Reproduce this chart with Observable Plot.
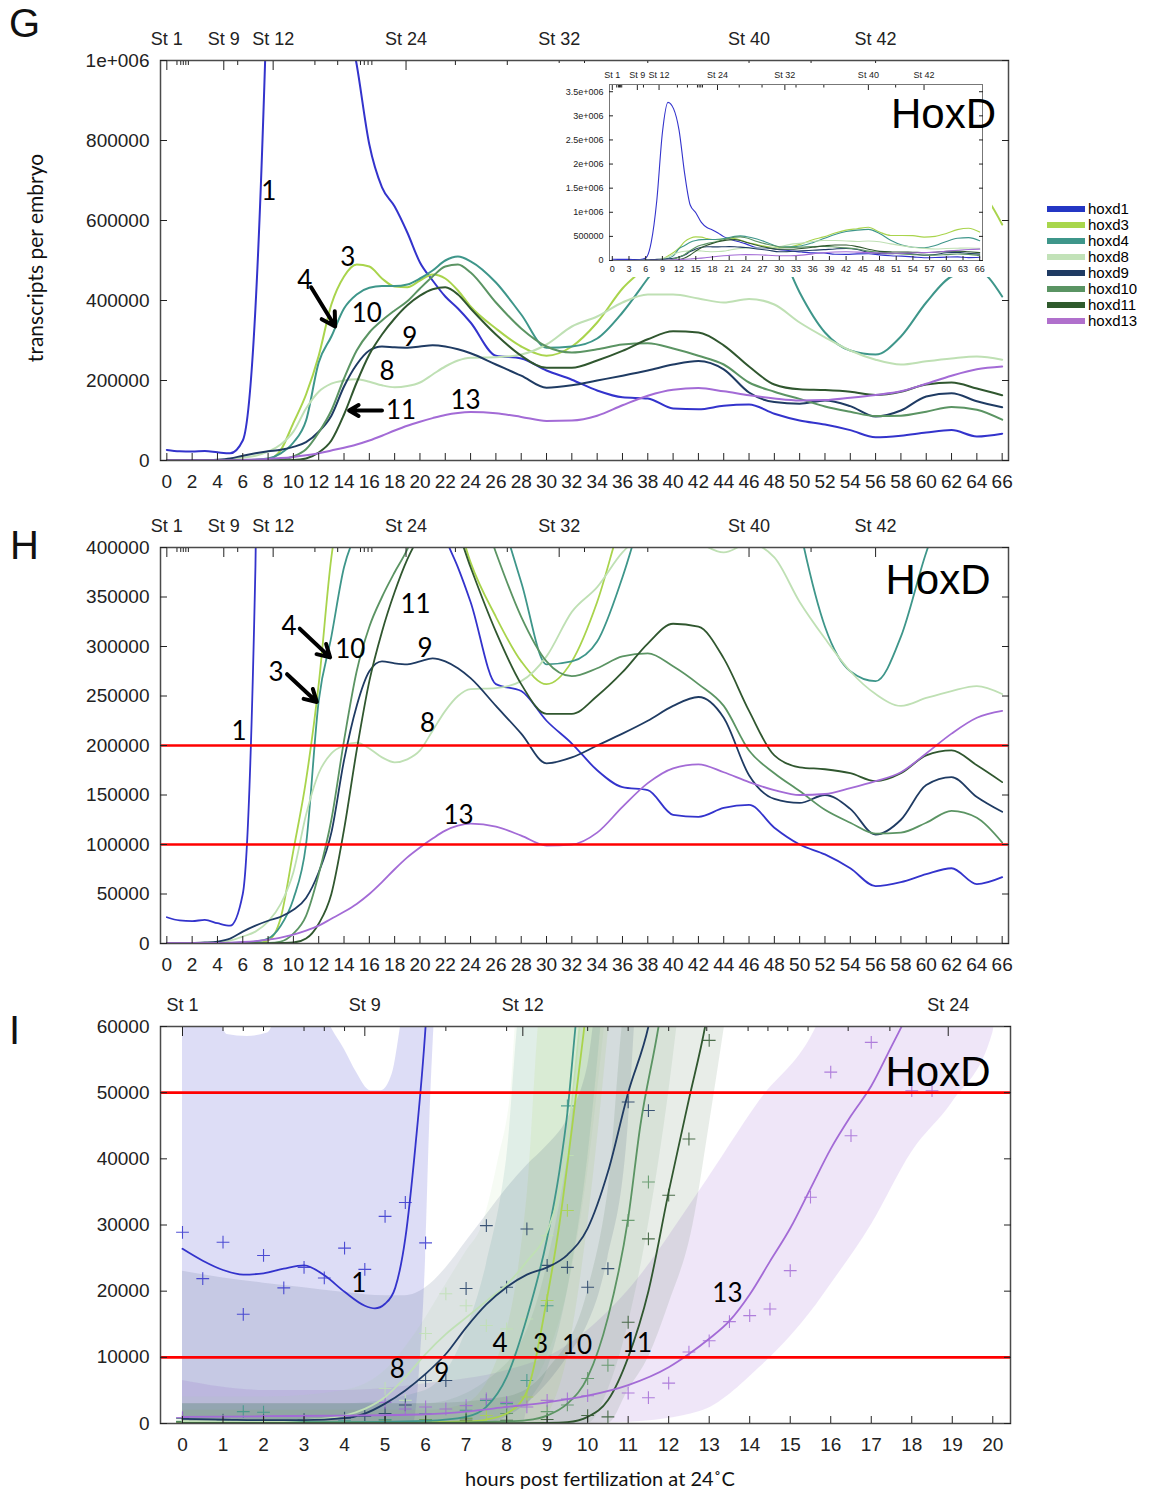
<!DOCTYPE html>
<html><head><meta charset="utf-8">
<script src="https://cdn.jsdelivr.net/npm/d3@7"></script>
<script src="https://cdn.jsdelivr.net/npm/@observablehq/plot@0.6"></script>
<style>
body{margin:0;background:#fff;}
#root{position:relative;width:1157px;height:1492px;overflow:hidden;background:#fff;font-family:"Liberation Sans",Arial,sans-serif;}
.abs{position:absolute;}
.letter{font-size:40px;line-height:40px;color:#111;}
.hoxd{font-size:42px;line-height:42px;color:#000;}
.title{font-family:Lato,"Open Sans",sans-serif;font-size:21px;color:#111;white-space:nowrap;}
.leg{font-size:15px;line-height:16px;color:#000;}
.leg div{display:flex;align-items:center;height:16px;}
.leg span.sw{display:inline-block;width:38px;height:6px;margin-right:3px;}
</style></head><body><div id="root"></div>
<script>
// ---------------- genes & colours ----------------
const genes = ["hoxd1","hoxd3","hoxd4","hoxd8","hoxd9","hoxd10","hoxd11","hoxd13"];
const lineColors = ["#3333cc","#a9d44c","#3e968a","#bfe0b4","#1f3b63","#5b9463","#30572f","#a36bd6"];
const legendColors = ["#2436c4","#a8d64c","#3e968a","#c2e2b8","#1f3b63","#5a9463","#2f5a2c","#b070cc"];
const bandOpacity = [0.17,0.12,0.12,0.14,0.12,0.11,0.11,0.17];

// ---------------- stages ----------------
const stageNames = ["St 1","St 9","St 12","St 24","St 32","St 40","St 42"];
const stageHours = [0,4.5,8.4,18.9,31,46,56];
const minorStageHours = [0.8,1.1,1.3,1.5,1.7,5.6,11.7,13.5,15.3,15.6,15.9,16.2,22.8,26.9,33,38,50.9];
const minorStageHoursI = [1,1.5,2,3,3.5,4,6.5,8,10,10.5,11,12,12.94,13.96,14.45,14.94,15.44,16.43,17.46];

// ---------------- panels G/H/inset: transcripts per embryo (thousands) ----------------
const hoursMain = [0,1,2,3,4,5,6,7,8,9,10,11,12,13,14,15,16,17,18,19,20,21,22,23,24,26,28,30,32,34,36,38,40,42,44,46,48,50,52,54,56,58,60,62,64,66];
const hoxd1 = [26.5,23.3,22.7,23.8,20.5,18,50,380,1250,2650,3280,3150,2700,1800,1150,990,790,683,635,570,495,450,410,380,345,262,255,225,202,175,158,155,130,128,137,140,117,100,90,76,58,62,70,76,60,67];
const hoxd3 = [0.3,0.3,0.3,0.3,0.3,0.3,0.3,0.5,3,26,94,165,262,390,460,490,485,455,435,433,450,465,455,425,385,330,285,262,285,345,430,490,570,630,660,690,590,520,520,515,485,500,560,640,670,590];
const hoxd4 = [0.2,0.2,0.2,0.2,0.3,0.5,1,2,5,18,45,100,245,310,380,415,432,436,436,440,455,475,500,510,498,445,365,282,285,305,370,455,540,600,630,645,560,420,320,275,265,310,395,460,475,410];
const hoxd8 = [0.3,0.4,0.5,0.6,1,3,7,12,22,40,72,130,172,192,200,203,197,188,183,186,195,215,235,250,257,258,265,290,335,360,395,415,415,405,395,404,390,345,308,275,252,240,248,255,260,252];
const hoxd9 = [0.5,0.5,0.5,1,2,5,12,18,23,27,34,46,72,112,185,240,275,285,283,282,285,288,285,278,268,240,212,182,188,200,212,225,240,249,228,170,146,142,150,136,110,125,160,168,148,133];
const hoxd10 = [0.1,0.1,0.1,0.1,0.1,0.1,0.2,0.3,0.5,2,10,28,70,125,205,275,320,350,375,398,430,460,485,490,470,395,330,285,270,278,290,293,280,262,240,195,172,154,135,122,111,112,122,134,127,102];
const hoxd11 = [0.1,0.1,0.1,0.1,0.1,0.1,0.1,0.1,0.2,0.5,1,5,20,50,115,195,265,315,355,388,412,428,433,415,380,315,262,232,232,250,274,303,323,320,288,235,190,178,176,172,164,172,190,195,180,163];
const hoxd13 = [0.5,0.5,0.5,0.5,0.5,0.8,1.5,2.5,4,6,9,13,18,25,32,40,50,62,75,87,97,106,114,119,121,118,109,99,100,112,138,162,177,181,173,163,155,150,151,157,164,173,192,212,228,235];
const mainSeries = [hoxd1,hoxd3,hoxd4,hoxd8,hoxd9,hoxd10,hoxd11,hoxd13];

// ---------------- panel I: fitted curves (thousands) ----------------
const i1h = [0,0.5,1,1.5,2,2.5,3,3.5,4,4.5,4.75,5,5.25,5.5,5.75,6,6.1];
const i1v = [26.4,24.6,23.2,22.5,22.7,23.4,23.9,22.4,19.9,17.8,17.4,18.1,20.5,28,42,60,70];
const i3h = [0,2,4,6,7,7.5,8,8.5,9,9.3,9.6,9.9,10.1];
const i3v = [0.2,0.2,0.2,0.2,0.3,0.6,1.5,4.8,19,30,44,59,70];
const i4h = [0,2,4,6,7,7.5,8,8.5,9,9.3,9.5,9.7,9.9];
const i4v = [0.2,0.2,0.2,0.4,1,2.5,7,16,28,38,47,60,72];
const i8h = [0,1,2,3,4,4.5,5,5.5,6,6.5,7,7.5,8,8.5,9,9.3,9.6,9.8,10];
const i8v = [0.3,0.3,0.3,0.5,1.2,2.2,4,7,10.5,13.5,16,18.5,21,24.5,29,35,48,60,72];
const i9h = [0,1,2,3,4,4.5,5,5.5,6,6.5,7,7.5,8,8.5,9,9.5,10,10.5,11,11.5,11.7];
const i9v = [0.7,0.6,0.5,0.5,0.8,1.5,3,5,7.5,10.5,14.5,18,20.6,22.5,23.6,25.5,29.5,38,50,60,66];
const i10h = [0,2,4,6,8,8.5,9,9.5,10,10.5,11,11.3,11.75,12];
const i10v = [0.1,0.1,0.1,0.1,0.3,0.5,1.2,3,7,16,31,45,60,70];
const i11h = [0,2,4,6,8,9,9.5,10,10.5,11,11.5,12,12.5,12.9,13.1];
const i11v = [0.05,0.05,0.05,0.05,0.05,0.1,0.2,1,3.5,10,20,35,49,60,67];
const i13h = [0,2,4,6,7,8,9,10,11,12,12.5,13,13.5,14,14.5,15,15.5,16,16.5,17,17.5,18];
const i13v = [1,1.1,1.2,1.4,1.8,2.5,3.2,4.2,5.8,8.5,10.5,12.8,15.5,19.5,24.5,29.5,35.5,41.5,46.5,51,57,63];
const iCurveH = [i1h,i3h,i4h,i8h,i9h,i10h,i11h,i13h];
const iCurveV = [i1v,i3v,i4v,i8v,i9v,i10v,i11v,i13v];

// ---------------- panel I: confidence bands (thousands) ----------------
const b1h = [0,0.9,1.1,1.6,2.1,2.4,3.5,3.7,4.0,4.3,4.64,4.9,5.18,5.37,5.5,5.7,5.85,6.0,6.1,6.25];
const b1lo = [0,0,0,0,0,0,0,0,0,0,0,0,0,0,0,0,8,25,45,65];
const b1hi = [65,61,58.8,58.5,59,62,62,59.5,56.5,53,50.3,50.3,52.9,59.5,65,65,65,65,65,65];
const b3h = [0,2,4,6,7,8,8.5,8.9,9,9.5,10,10.6];
const b3lo = [0,0,0,0,0,0,0,0,1,10,30,65];
const b3hi = [2,2,2,2,3,14,34,65,65,65,65,65];
const b4h = [0,2,4,6,7,7.5,8,8.4,8.5,9,9.5,10,10.4];
const b4lo = [0,0,0,0,0,0,0,0,2,8,20,40,65];
const b4hi = [3,3,3,5,14,24,40,65,65,65,65,65,65];
const b8h = [0,2,4,5,5.9,6.5,7,7.4,7.8,8.1,8.3,9,9.5,10,10.5];
const b8lo = [0,0,0,0,0,0,0,0,1,2,3,10,20,38,65];
const b8hi = [4,4,5,8,15,21,26,30,40,50,65,65,65,65,65];
const b9h = [0,1,2,3,4,5,5.5,6,6.5,7,7.5,8,8.5,9,9.5,10,10.3,10.5,11,11.2];
const b9lo = [0,0,0,0,0,0,0,0,0,0,0,1,3,6,10,15,20,25,45,65];
const b9hi = [23,22,21.2,20.5,19.8,19.3,19.3,20.5,23.5,27.5,31.5,35.5,39,42,46,54,65,65,65,65];
const b10h = [0,2,4,6,8,9,9.5,10,10.5,11,11.5,12,12.3];
const b10lo = [0,0,0,0,0,0,0,0,5,15,30,50,65];
const b10hi = [3,3,3,3,9,24,40,65,65,65,65,65,65];
const b11h = [0,2,4,6,8,9,10,10.5,11,11.5,12,12.6,13,13.5];
const b11lo = [0,0,0,0,0,0,0,0,5,10,18,30,45,65];
const b11hi = [3,3,3,3,4,8,20,35,65,65,65,65,65,65];
const b13h = [0,2,4,6,8,9.3,11,12.77,14.25,15.65,16,17,18,19,20,20.1];
const b13lo = [0,0,0,0,0,0,0.2,1.8,8.5,18,21,30,41,48.5,59,65];
const b13hi = [6.5,5,5,6,8,11,20.1,35.2,48.8,60,65,65,65,65,65,65];
const bandH = [b1h,b3h,b4h,b8h,b9h,b10h,b11h,b13h];
const bandLo = [b1lo,b3lo,b4lo,b8lo,b9lo,b10lo,b11lo,b13lo];
const bandHi = [b1hi,b3hi,b4hi,b8hi,b9hi,b10hi,b11hi,b13hi];

// ---------------- panel I: measured points (thousands) ----------------
const p1x = [0,0.5,1,1.5,2,2.5,3,3.5,4,4.5,5,5.5,6];
const p1y = [28.9,21.9,27.4,16.5,25.4,20.5,23.6,22,26.5,23.3,31.3,33.4,27.3];
const p3x = [0,2,4,6,7,7.5,8,8.5,9,9.5];
const p3y = [0.2,0.3,0.2,0.6,0.8,1.2,2.5,4,18.6,32.2];
const p4x = [0,1,1.5,2,3,4,5,6,7,7.5,8,8.5,9,9.5];
const p4y = [0.3,0.4,1.8,1.7,0.3,0.4,0.6,1.5,2,3.5,3,6.5,17.8,48];
const p8x = [0,1,2,3,4,5,5.5,6,6.5,7,7.5,8,8.5,9,9.5];
const p8y = [0.5,0.5,0.3,0.4,0.8,5.3,3.5,13.6,19.6,17.8,14.8,14.3,15.8,28.4,40.5];
const p9x = [0,1,2,3,4,4.5,5,5.5,6,6.5,7,7.5,8,8.5,9,9.5,10,10.5,11,11.5];
const p9y = [0.8,0.5,0.4,0.6,0.8,1.1,1.5,2.8,6.5,6.5,20.4,29.9,20.6,29.4,23.9,23.6,20.6,23.4,48.6,47.3];
const p10x = [0,1,2,3,4,5,6,7,8,9,9.5,10,10.5,11,11.5];
const p10y = [0.3,0.3,0.2,0.3,0.2,0.5,0.6,0.8,1.5,1.8,2.8,6.8,8.8,30.7,36.5];
const p11x = [0,1,2,3,4,5,6,7,8,9,10,10.5,11,11.5,12,12.5,13];
const p11y = [0.2,0.2,0.2,0.2,0.2,0.3,0.3,0.5,0.5,0.6,1.2,1,15.3,27.9,34.5,43,57.9];
const p13x = [0,1,2,3,4,5,5.5,6,6.5,7,7.5,8,8.5,9,9.5,10,11,11.5,12,12.5,13,13.5,14,14.5,15,15.5,16,16.5,17,18,18.5];
const p13y = [0.9,0.3,0.2,0.2,0.3,3.2,2.2,2.5,2.2,2.7,3.7,3.2,2.5,3.5,3.7,4.2,4.6,3.9,6.1,10.8,12.5,15.4,16.3,17.3,23.1,34.2,53.1,43.5,57.6,50.3,50.3];
const ptX = [p1x,p3x,p4x,p8x,p9x,p10x,p11x,p13x];
const ptY = [p1y,p3y,p4y,p8y,p9y,p10y,p11y,p13y];

// ---------------- annotations ----------------
const labelsG = [{t:"1",x:8.05,y:671e3},{t:"3",x:14.3,y:508e3},{t:"4",x:10.9,y:450e3},{t:"10",x:15.8,y:367e3},{t:"9",x:19.2,y:308e3},{t:"8",x:17.4,y:221e3},{t:"11",x:18.5,y:125e3},{t:"13",x:23.6,y:150e3}];
const arrowsG = [{x1:11.4,y1:433e3,x2:13.3,y2:335e3},{x1:17.0,y1:125e3,x2:14.4,y2:125e3}];
const labelsH = [{t:"1",x:5.7,y:214e3},{t:"4",x:9.66,y:320e3},{t:"10",x:14.5,y:297e3},{t:"3",x:8.63,y:274e3},{t:"11",x:19.65,y:342e3},{t:"9",x:20.4,y:298e3},{t:"8",x:20.6,y:222e3},{t:"13",x:23.05,y:129e3}];
const arrowsH = [{x1:10.5,y1:318e3,x2:12.9,y2:289e3},{x1:9.5,y1:272e3,x2:11.85,y2:244e3}];
const labelsI = [{t:"1",x:4.35,y:21100},{t:"8",x:5.3,y:8100},{t:"9",x:6.4,y:7600},{t:"4",x:7.84,y:12000},{t:"3",x:8.84,y:11900},{t:"10",x:9.74,y:11800},{t:"11",x:11.22,y:12000},{t:"13",x:13.45,y:19600}];
const rulesH = [200000,100000];
const rulesI = [50000,10000];

// ---------------- build tables ----------------
const mainLong = genes.flatMap((g,i)=>hoursMain.map((h,j)=>({gene:g,hour:h,value:mainSeries[i][j]*1000})));
const iLong = genes.flatMap((g,i)=>iCurveH[i].map((h,j)=>({gene:g,hour:h,value:iCurveV[i][j]*1000})));
const bandOrder = [0,7,3,2,1,5,6,4];
const ptLong = genes.flatMap((g,i)=>ptX[i].map((h,j)=>({gene:g,hour:h,value:ptY[i][j]*1000})));

const stageMap = new Map(stageHours.map((h,i)=>[h,stageNames[i]]));
const baseStyle = {fontFamily:"'Liberation Sans',Arial,sans-serif",fontSize:"19px",color:"#222",background:"transparent",overflow:"visible"};
const colorScale = {domain:genes, range:lineColors};

function axesMain(yTicks, yFmt, xTicks, stages, minors){
  return [
    Plot.axisX(xTicks,{anchor:"bottom",tickSize:-7,tickPadding:21,label:null,fontSize:19}),
    Plot.axisX(stages,{anchor:"top",tickSize:-9,tickPadding:25,tickFormat:d=>stageMap.get(d),label:null,fontSize:18}),
    Plot.axisX(minors,{anchor:"top",tickSize:-4,tickPadding:0,tickFormat:()=>"",label:null}),
    Plot.axisY(yTicks,{anchor:"left",tickSize:-7,tickPadding:18,tickFormat:yFmt,label:null,fontSize:19}),
    Plot.axisY(yTicks,{anchor:"right",tickSize:-7,tickPadding:0,tickFormat:()=>"",label:null})
  ];
}
function labelMarks(labels, arrows){
  const m = [Plot.text(labels,{x:"x",y:"y",text:"t",fontFamily:"Lato",fontSize:26,fill:"#000"})];
  if (arrows) m.push(Plot.arrow(arrows,{x1:"x1",y1:"y1",x2:"x2",y2:"y2",stroke:"#000",strokeWidth:4,headLength:13}));
  return m;
}

const root = document.getElementById("root");
function place(el, left, top){ const d=document.createElement("div"); d.className="abs"; d.style.left=left+"px"; d.style.top=top+"px"; d.appendChild(el); root.appendChild(d); return d; }
function html(cls, text, left, top, extra){ const d=document.createElement("div"); d.className="abs "+cls; d.textContent=text; d.style.left=left+"px"; d.style.top=top+"px"; if(extra) Object.assign(d.style, extra); root.appendChild(d); return d; }

// ---------------- Panel G ----------------
const gPlot = Plot.plot({
  width:1157, height:500, marginLeft:160, marginRight:149, marginTop:60, marginBottom:40,
  x:{domain:[-0.5,66.5]}, y:{domain:[0,1e6]}, color:colorScale, style:baseStyle,
  marks:[
    Plot.line(mainLong,{x:"hour",y:"value",stroke:"gene",curve:"monotone-x",strokeWidth:2,clip:true}),
    Plot.frame({stroke:"#4a4a4a",strokeWidth:1.5}),
    ...axesMain(d3.range(0,1e6+1,2e5), d=>d===1e6?"1e+006":String(d), d3.range(0,67,2), stageHours, minorStageHours),
    ...labelMarks(labelsG, arrowsG)
  ]
});
place(gPlot,0,0);

// inset
const insetPlot = Plot.plot({
  width:446, height:214, marginLeft:63, marginRight:10, marginTop:21, marginBottom:17,
  x:{domain:[-0.5,66.5]}, y:{domain:[0,3.65e6]}, color:colorScale,
  style:{...baseStyle, fontSize:"9px", background:"#fff"},
  marks:[
    Plot.line(mainLong,{x:"hour",y:"value",stroke:"gene",curve:"monotone-x",strokeWidth:1.1,clip:true}),
    Plot.frame({stroke:"#777",strokeWidth:1}),
    Plot.axisX(d3.range(0,67,3),{anchor:"bottom",tickSize:-4,tickPadding:9,label:null,fontSize:9}),
    Plot.axisX(stageHours,{anchor:"top",tickSize:-5,tickPadding:12,tickFormat:d=>stageMap.get(d),label:null,fontSize:9}),
    Plot.axisX(minorStageHours,{anchor:"top",tickSize:-2.5,tickPadding:0,tickFormat:()=>"",label:null}),
    Plot.axisY(d3.range(0,3.5e6+1,5e5),{anchor:"left",tickSize:-4,tickPadding:10,tickFormat:d=>d>=1e6?(d/1e6)+"e+006":String(d),label:null,fontSize:9}),
    Plot.axisY(d3.range(0,3.5e6+1,5e5),{anchor:"right",tickSize:-4,tickPadding:0,tickFormat:()=>"",label:null})
  ]
});
place(insetPlot,546,63);
html("hoxd","HoxD",891,93);

// ---------------- Panel H ----------------
const hPlot = Plot.plot({
  width:1157, height:483, marginLeft:160, marginRight:149, marginTop:47, marginBottom:40,
  x:{domain:[-0.5,66.5]}, y:{domain:[0,4e5]}, color:colorScale, style:baseStyle,
  marks:[
    Plot.line(mainLong,{x:"hour",y:"value",stroke:"gene",curve:"monotone-x",strokeWidth:1.8,clip:true}),
    Plot.ruleY(rulesH,{stroke:"#ff0000",strokeWidth:2.6}),
    Plot.frame({stroke:"#4a4a4a",strokeWidth:1.5}),
    ...axesMain(d3.range(0,4e5+1,5e4), d=>String(d), d3.range(0,67,2), stageHours, minorStageHours),
    ...labelMarks(labelsH, arrowsH),
    Plot.text(["HoxD"],{frameAnchor:"top-right",dx:-18,dy:33,textAnchor:"end",lineAnchor:"middle",fontSize:42,fill:"#000"})
  ]
});
place(hPlot,0,500);

// ---------------- Panel I ----------------
const stagesI = stageHours.filter(h=>h<=20.4);
const bandMarks = bandOrder.map(i=>Plot.areaY(
  bandH[i].map((h,j)=>({gene:genes[i],hour:h,lo:bandLo[i][j]*1000,hi:bandHi[i][j]*1000})),
  {x:"hour",y1:"lo",y2:"hi",fill:"gene",fillOpacity:bandOpacity[i],curve:"monotone-x",clip:true}));
const iPlot = Plot.plot({
  width:1157, height:485, marginLeft:160, marginRight:147, marginTop:43, marginBottom:45,
  x:{domain:[-0.543,20.437]}, y:{domain:[0,60000]}, color:colorScale, style:baseStyle,
  marks:[
    ...bandMarks,
    Plot.dot(ptLong,{x:"hour",y:"value",stroke:"gene",symbol:"plus",r:4.2,strokeWidth:1.1,strokeOpacity:0.85,clip:true}),
    Plot.line(iLong,{x:"hour",y:"value",stroke:"gene",curve:"monotone-x",strokeWidth:1.8,clip:true}),
    Plot.ruleY(rulesI,{stroke:"#ff0000",strokeWidth:2.6}),
    Plot.frame({stroke:"#4a4a4a",strokeWidth:1.5}),
    ...axesMain(d3.range(0,60001,10000), d=>String(d), d3.range(0,21,1), stagesI, minorStageHoursI),
    ...labelMarks(labelsI, null),
    Plot.text(["HoxD"],{frameAnchor:"top-right",dx:-20,dy:46,textAnchor:"end",lineAnchor:"middle",fontSize:42,fill:"#000"})
  ]
});
place(iPlot,0,983);

// ---------------- titles, letters, legend ----------------
html("letter","G",9,3);
html("letter","H",10,525);
html("letter","I",9,1010);
html("title","transcripts per embryo",34,258,{transform:"translate(-50%,-50%) rotate(-90deg)"});
html("title","hours post fertilization at 24˚C",600,1478,{transform:"translate(-50%,-50%)",fontSize:"20px"});

const leg = document.createElement("div");
leg.className = "abs leg"; leg.style.left = "1047px"; leg.style.top = "201px";
genes.forEach((g,i)=>{
  const row = document.createElement("div");
  const sw = document.createElement("span"); sw.className="sw"; sw.style.background = legendColors[i];
  const tx = document.createElement("span"); tx.textContent = g;
  row.appendChild(sw); row.appendChild(tx); leg.appendChild(row);
});
root.appendChild(leg);
</script>
</body></html>
